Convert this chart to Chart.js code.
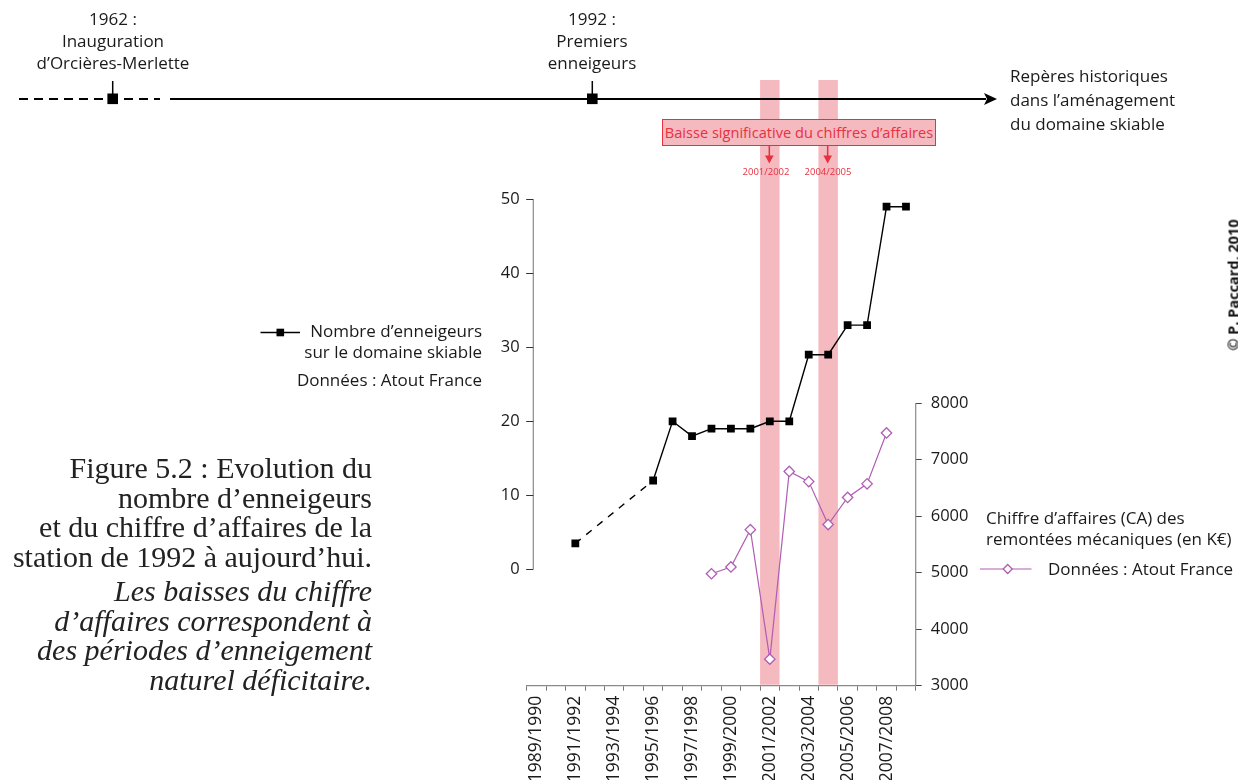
<!doctype html>
<html>
<head>
    <meta charset="utf-8">
    <title>Orcières-Merlette : enneigeurs et chiffre d'affaires</title>
    <script src="https://cdn.jsdelivr.net/npm/chart.js"></script>
    <style>
        body { margin: 0; background: #fff; }
        #page { position: relative; width: 1238px; height: 780px; overflow: hidden; }
        #page canvas { position: absolute; left: 0; top: 0; }
        .t { position: absolute; white-space: nowrap; font-family: 'Open Sans', sans-serif; font-size: 17px; color: #1a1a1a; }
        .c { text-align: center; }
        .r { text-align: right; }
        .red { color: #e8313f; }
        .caption { position: absolute; right: 866px; text-align: right; white-space: nowrap;
                   font-family: 'Liberation Serif', 'Times New Roman', serif; font-size: 30px; line-height: 29.5px; color: #222; }
        #box { position: absolute; left: 662px; top: 119px; width: 274px; height: 27px; box-sizing: border-box;
               border: 1px solid #e8313f; background: #f5b9c0; font-family: 'Open Sans', sans-serif;
               font-size: 14.6px; line-height: 25px; text-align: center; color: #e8313f; white-space: nowrap; }
        #copy { position: absolute; left: 1233px; top: 285px; transform: translate(-50%, -50%) rotate(-90deg);
                font-family: 'Open Sans', sans-serif; font-weight: bold; font-size: 14.5px; color: #111; white-space: nowrap; }
    </style>
</head>
<body>
<div id="page">
    <canvas id="chart" width="1238" height="780"></canvas>

    <!-- timeline labels -->
    <div class="t c" style="left:-37px; top:8px; width:300px; line-height:22px;">1962 :<br>Inauguration<br>d’Orcières-Merlette</div>
    <div class="t c" style="left:442px; top:8px; width:300px; line-height:22px;">1992 :<br>Premiers<br>enneigeurs</div>
    <div class="t" style="left:1010px; top:64px; line-height:24px;">Repères historiques<br>dans l’aménagement<br>du domaine skiable</div>

    <!-- annotation -->
    <div id="box">Baisse significative du chiffres d’affaires</div>
    <div class="t c red" style="left:736px; top:166px; width:60px; font-size:9.5px; line-height:12px;">2001/2002</div>
    <div class="t c red" style="left:798px; top:166px; width:60px; font-size:9.5px; line-height:12px;">2004/2005</div>

    <!-- left legend -->
    <div class="t r" style="left:232px; top:321px; width:250px; line-height:20px;">Nombre d’enneigeurs</div>
    <div class="t r" style="left:232px; top:342px; width:250px; line-height:20px;">sur le domaine skiable</div>
    <div class="t r" style="left:232px; top:370px; width:250px; line-height:20px;">Données : Atout France</div>

    <!-- right legend -->
    <div class="t" style="left:986px; top:508px; line-height:20px;">Chiffre d’affaires (CA) des</div>
    <div class="t" style="left:986px; top:529px; line-height:20px;">remontées mécaniques (en K€)</div>
    <div class="t" style="left:1048px; top:559px; line-height:20px;">Données : Atout France</div>

    <!-- caption -->
    <div class="caption" style="top:453px;">Figure 5.2 : Evolution du<br>nombre d’enneigeurs<br>et du chiffre d’affaires de la<br>station de 1992 à aujourd’hui.</div>
    <div class="caption" style="top:576px; font-style:italic;">Les baisses du chiffre<br>d’affaires correspondent à<br>des périodes d’enneigement<br>naturel déficitaire.</div>

    <div id="copy">© P. Paccard, 2010</div>
</div>

<script>
// seasons on the x axis
var seasons = ['1989/1990', '1990/1991', '1991/1992', '1992/1993', '1993/1994', '1994/1995',
               '1995/1996', '1996/1997', '1997/1998', '1998/1999', '1999/2000', '2000/2001',
               '2001/2002', '2002/2003', '2003/2004', '2004/2005', '2005/2006', '2006/2007',
               '2007/2008', '2008/2009'];
// number of snow cannons (left axis)
var enneigeurs = [null, null, 3.5, null, null, null, 12, 20, 18, 19,
                  19, 19, 20, 20, 29, 29, 33, 33, 49, 49];
// turnover of the lifts in K€ (right axis)
var chiffreAffaires = [null, null, null, null, null, null, null, null, null, 4980,
                       5100, 5760, 3470, 6790, 6610, 5850, 6330, 6570, 7470, null];
// seasons with a significant drop
var baisseSeasons = ['2001/2002', '2004/2005'];
// axis ticks
var leftTicks = [0, 10, 20, 30, 40, 50];
var rightTicks = [3000, 4000, 5000, 6000, 7000, 8000];

var PINK = '#f5b9c0';
var RED = '#e8313f';
var PURPLE = '#b05db3';
var AXIS = '#8a8a8a';

Chart.defaults.font.family = "'Open Sans', sans-serif";
Chart.defaults.font.size = 16.5;
Chart.defaults.color = '#1a1a1a';

function seg(ctx, x1, y1, x2, y2) {
    ctx.beginPath();
    ctx.moveTo(x1, y1);
    ctx.lineTo(x2, y2);
    ctx.stroke();
}

// bands, hand drawn axis lines, timeline, arrows and legend samples
var decorations = {
    id: 'decorations',
    beforeDatasetsDraw: function(chart) {
        var ctx = chart.ctx, area = chart.chartArea, x = chart.scales.x;
        var w = x.getPixelForValue(1) - x.getPixelForValue(0);
        ctx.save();
        ctx.fillStyle = PINK;
        baisseSeasons.forEach(function(s) {
            var cx = x.getPixelForValue(seasons.indexOf(s));
            ctx.fillRect(cx - w / 2, area.top, w, area.bottom - area.top - 1);
        });
        ctx.restore();
    },
    afterDraw: function(chart) {
        var ctx = chart.ctx, area = chart.chartArea;
        var y = chart.scales.y, y2 = chart.scales.y2;
        ctx.save();

        // left axis: line from 0 to 50, a bit inside the plot
        var lx = area.left + 6.6;
        ctx.strokeStyle = AXIS;
        ctx.lineWidth = 1.2;
        seg(ctx, lx, y.getPixelForValue(leftTicks[leftTicks.length - 1]), lx, y.getPixelForValue(leftTicks[0]));
        ctx.strokeStyle = '#333';
        ctx.lineWidth = 1;
        leftTicks.forEach(function(v) {
            var py = Math.round(y.getPixelForValue(v)) + 0.5;
            seg(ctx, area.left - 0.5, py, lx, py);
        });
        // right axis: 3000 to 8000
        ctx.strokeStyle = AXIS;
        ctx.lineWidth = 1.2;
        seg(ctx, area.right, y2.getPixelForValue(rightTicks[rightTicks.length - 1]), area.right, area.bottom);

        // timeline
        ctx.strokeStyle = '#000';
        ctx.fillStyle = '#000';
        ctx.lineWidth = 1.8;
        ctx.setLineDash([9, 6]);
        seg(ctx, 19, 99, 160, 99);
        ctx.setLineDash([]);
        seg(ctx, 170, 99, 986, 99);
        ctx.beginPath();
        ctx.moveTo(997, 99);
        ctx.lineTo(984, 93);
        ctx.lineTo(987, 99);
        ctx.lineTo(984, 105);
        ctx.closePath();
        ctx.fill();
        ctx.lineWidth = 1.5;
        [112.7, 592.3].forEach(function(mx) {
            seg(ctx, mx, 81, mx, 95);
            ctx.fillRect(mx - 5.3, 93.5, 10.6, 10.6);
        });

        // red arrows under the box
        ctx.strokeStyle = RED;
        ctx.fillStyle = RED;
        ctx.lineWidth = 1.5;
        var x = chart.scales.x;
        baisseSeasons.forEach(function(s) {
            var ax = x.getPixelForValue(seasons.indexOf(s)) - 0.5;
            seg(ctx, ax, 146, ax, 157);
            ctx.beginPath();
            ctx.moveTo(ax - 4.3, 155.5);
            ctx.lineTo(ax + 4.3, 155.5);
            ctx.lineTo(ax, 163.5);
            ctx.closePath();
            ctx.fill();
        });

        // legend samples
        var d0 = chart.data.datasets[0], d1 = chart.data.datasets[1];
        ctx.strokeStyle = d0.borderColor;
        ctx.lineWidth = d0.borderWidth;
        seg(ctx, 260.5, 332.5, 300, 332.5);
        ctx.fillStyle = d0.pointBackgroundColor;
        ctx.fillRect(280.3 - 3.8, 332.5 - 3.8, 7.6, 7.6);

        ctx.strokeStyle = d1.borderColor;
        ctx.lineWidth = d1.borderWidth;
        seg(ctx, 980, 569, 1031.5, 569);
        ctx.beginPath();
        ctx.moveTo(1007.7, 564.5);
        ctx.lineTo(1012.2, 569);
        ctx.lineTo(1007.7, 573.5);
        ctx.lineTo(1003.2, 569);
        ctx.closePath();
        ctx.fillStyle = '#fff';
        ctx.fill();
        ctx.lineWidth = d1.pointBorderWidth;
        ctx.stroke();

        ctx.restore();
    }
};

var chart = new Chart(document.getElementById('chart'), {
    type: 'line',
    data: {
        labels: seasons,
        datasets: [{
            label: 'Nombre d’enneigeurs',
            data: enneigeurs,
            yAxisID: 'y',
            borderColor: '#000',
            borderWidth: 1.4,
            pointStyle: 'rect',
            pointRadius: 5.5,
            pointBorderWidth: 0,
            pointBackgroundColor: '#000',
            spanGaps: true,
            segment: {
                // dashed where seasons are missing
                borderDash: function(ctx) { return (ctx.p0.skip || ctx.p1.skip) ? [7, 7] : undefined; }
            }
        }, {
            label: 'Chiffre d’affaires (K€)',
            data: chiffreAffaires,
            yAxisID: 'y2',
            borderColor: PURPLE,
            borderWidth: 1.2,
            pointStyle: 'rectRot',
            pointRadius: 5.2,
            pointBorderWidth: 1.3,
            pointBorderColor: PURPLE,
            pointBackgroundColor: '#fff'
        }]
    },
    options: {
        responsive: false,
        animation: false,
        events: [],
        layout: { padding: { left: 476.7, right: 262.3, top: 80, bottom: 0 } },
        plugins: { legend: { display: false }, tooltip: { enabled: false } },
        scales: {
            x: {
                offset: true,
                grid: { offset: true, drawOnChartArea: false, tickLength: 5, color: '#777' },
                border: { display: true, color: AXIS, width: 1.2 },
                ticks: {
                    autoSkip: false, minRotation: 90, maxRotation: 90, padding: 5,
                    font: { size: 17.5 },
                    callback: function(v, i) { return i % 2 === 0 ? seasons[i] : ''; }
                },
                afterFit: function(s) { s.height = 94.3; }
            },
            y: {
                position: 'left',
                min: -15.73,
                max: 66.12,
                afterBuildTicks: function(s) { s.ticks = leftTicks.map(function(v) { return { value: v }; }); },
                grid: { display: false, drawTicks: false },
                border: { display: false },
                ticks: { padding: 7, callback: function(v) { return String(v); } },
                afterFit: function(s) { s.width = 50; }
            },
            y2: {
                position: 'right',
                min: 3000,
                max: 13713,
                afterBuildTicks: function(s) { s.ticks = rightTicks.map(function(v) { return { value: v }; }); },
                grid: { drawOnChartArea: false, tickLength: 6, color: '#444' },
                border: { display: false },
                ticks: { padding: 9, callback: function(v) { return String(v); } },
                afterFit: function(s) { s.width = 60; }
            }
        }
    },
    plugins: [decorations]
});
</script>
</body>
</html>
